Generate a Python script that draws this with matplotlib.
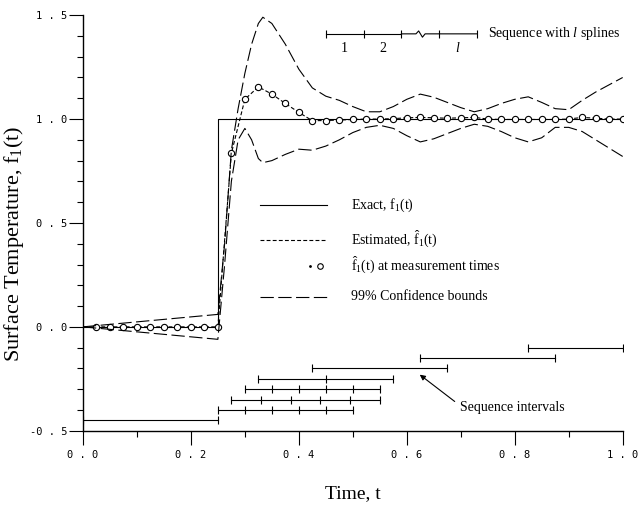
import numpy as np
import matplotlib
matplotlib.use('Agg')
import matplotlib.pyplot as plt
from matplotlib.ticker import MultipleLocator

plt.rcParams['font.family'] = 'Liberation Serif'
plt.rcParams['mathtext.fontset'] = 'custom'
plt.rcParams['mathtext.rm'] = 'Liberation Serif'
plt.rcParams['mathtext.it'] = 'Liberation Serif:italic'

# measurement times and estimated surface temperature at those times
t_meas = [0.025, 0.05, 0.075, 0.1, 0.125, 0.15, 0.175, 0.2, 0.225, 0.25,
          0.275, 0.3, 0.325, 0.35, 0.375, 0.4, 0.425, 0.45, 0.475, 0.5,
          0.525, 0.55, 0.575, 0.6, 0.625, 0.65, 0.675, 0.7, 0.725, 0.75,
          0.775, 0.8, 0.825, 0.85, 0.875, 0.9, 0.925, 0.95, 0.975, 1.0]
f_meas = [0.0, 0.0, 0.0, 0.0, 0.0, 0.0, 0.0, 0.0, 0.0, 0.0,
          0.835, 1.095, 1.155, 1.12, 1.075, 1.032, 0.992, 0.993, 0.995, 0.998,
          1.0, 1.0, 1.002, 1.006, 1.008, 1.006, 1.004, 1.006, 1.008, 1.0,
          0.998, 0.998, 0.998, 0.998, 0.998, 1.0, 1.008, 1.004, 1.0, 1.0]

# exact step input
exact_t = [0.0, 0.25, 0.25, 1.0]
exact_f = [0.0, 0.0, 1.0, 1.0]

# 99% confidence bounds
bound_t = [0.0, 0.125, 0.25, 0.2625, 0.275, 0.2875, 0.3, 0.3125, 0.325, 0.3333,
           0.35, 0.375, 0.4, 0.425, 0.45, 0.475, 0.5, 0.525, 0.55, 0.575,
           0.6, 0.625, 0.65, 0.675, 0.7, 0.725, 0.75, 0.775, 0.8, 0.825,
           0.85, 0.875, 0.9, 0.925, 0.95, 0.975, 1.0]
upper = [0.0, 0.03, 0.06, 0.4, 0.85, 1.05, 1.22, 1.36, 1.46, 1.49,
         1.46, 1.36, 1.24, 1.15, 1.11, 1.09, 1.06, 1.035, 1.035, 1.06,
         1.095, 1.12, 1.105, 1.08, 1.055, 1.035, 1.05, 1.075, 1.095, 1.107,
         1.08, 1.05, 1.045, 1.09, 1.13, 1.165, 1.2]
lower = [0.0, -0.03, -0.06, 0.3, 0.7, 0.9, 0.955, 0.9, 0.81, 0.79,
         0.8, 0.83, 0.855, 0.85, 0.87, 0.9, 0.935, 0.96, 0.97, 0.955,
         0.92, 0.89, 0.905, 0.93, 0.955, 0.975, 0.965, 0.94, 0.91, 0.89,
         0.91, 0.96, 0.96, 0.94, 0.9, 0.86, 0.82]

# sequence intervals: row level and the spline knots in each sequence
seq_rows = [-0.45, -0.40, -0.35, -0.30, -0.25, -0.20, -0.15, -0.10]
seq_knots = [[0.0, 0.25],
             [0.25, 0.3, 0.35, 0.4, 0.45, 0.5],
             [0.275, 0.33, 0.385, 0.44, 0.495, 0.55],
             [0.3, 0.35, 0.4, 0.45, 0.5, 0.55],
             [0.325, 0.45, 0.575],
             [0.425, 0.675],
             [0.625, 0.875],
             [0.825, 1.0]]

# key for a sequence with l splines
key_knots = [0.45, 0.52, 0.59, 0.66, 0.73]
key_y = 1.41
key_labels = ['1', '2', '$l$']

fig = plt.figure(figsize=(6.38, 5.05), dpi=100)
ax = fig.add_axes([0.130, 0.147, 0.846, 0.823])

lw = 0.8
ax.plot(exact_t, exact_f, 'k-', lw=lw)
ax.plot([0.0] + t_meas, [0.0] + f_meas, 'k', lw=lw, dashes=(3.5, 2))
ax.plot(t_meas, f_meas, 'o', ms=4.5, mfc='white', mec='k', mew=0.8)
ax.plot(bound_t, upper, 'k', lw=lw, dashes=(12, 4))
ax.plot(bound_t, lower, 'k', lw=lw, dashes=(12, 4))

for y, knots in zip(seq_rows, seq_knots):
    ax.plot([knots[0], knots[-1]], [y, y], 'k-', lw=lw)
    ax.plot(knots, [y] * len(knots), 'k|', ms=6, mew=0.8)

ax.annotate('Sequence intervals', xy=(0.624, -0.23), xytext=(0.698, -0.39),
            fontsize=10, va='center', ha='left',
            arrowprops=dict(arrowstyle='-|>', color='k', lw=0.8,
                            mutation_scale=8, shrinkA=2, shrinkB=0,
                            relpos=(0.0, 0.7)))

# key for l splines with a break between 2 and l
ax.plot([key_knots[0], key_knots[2]], [key_y, key_y], 'k-', lw=lw)
ax.plot([key_knots[2], 0.617, 0.622, 0.629, 0.634, key_knots[4]],
        [key_y, key_y, key_y + 0.014, key_y - 0.016, key_y, key_y], 'k-', lw=lw)
ax.plot(key_knots, [key_y] * len(key_knots), 'k|', ms=6, mew=0.8)
for i, lab in zip([0, 1, 3], key_labels):
    ax.text((key_knots[i] + key_knots[i + 1]) / 2, 1.34, lab,
            fontsize=10, ha='center', va='center')
ax.text(0.75, key_y, 'Sequence with $l$ splines', fontsize=10, va='center')

# legend drawn by hand
lx0, lx1, tx = 0.328, 0.452, 0.497
ax.plot([lx0, lx1], [0.587, 0.587], 'k-', lw=lw)
ax.text(tx, 0.587, r'Exact, f$_1$(t)', fontsize=10, va='center')
ax.plot([lx0, lx1], [0.42, 0.42], 'k', lw=lw, dashes=(3.5, 2))
ax.text(tx, 0.42, r'Estimated, $\hat{\mathrm{f}}_1$(t)', fontsize=10, va='center')
ax.plot([0.421], [0.295], 'k.', ms=2)
ax.plot([0.44], [0.295], 'o', ms=4, mfc='white', mec='k', mew=0.8)
ax.text(tx, 0.295, r'$\hat{\mathrm{f}}_1$(t) at measurement times', fontsize=10, va='center')
ax.plot([lx0, lx1], [0.144, 0.144], 'k', lw=lw, dashes=(12, 4))
ax.text(tx, 0.144, '99% Confidence bounds', fontsize=10, va='center')

ax.set_xlim(0.0, 1.0)
ax.set_ylim(-0.5, 1.5)
for s in ['top', 'right']:
    ax.spines[s].set_visible(False)
ax.spines['left'].set_linewidth(1.0)
ax.spines['bottom'].set_linewidth(1.0)

ax.xaxis.set_major_locator(MultipleLocator(0.2))
ax.xaxis.set_minor_locator(MultipleLocator(0.1))
ax.yaxis.set_major_locator(MultipleLocator(0.5))
ax.yaxis.set_minor_locator(MultipleLocator(0.1))
ax.tick_params(which='major', direction='out', length=10, width=0.8)
ax.tick_params(which='minor', direction='out', length=4.5, width=0.8)
ax.tick_params(axis='y', which='major', pad=1)
ax.tick_params(axis='x', which='major', pad=4)

xt = [0.0, 0.2, 0.4, 0.6, 0.8, 1.0]
yt = [-0.5, 0.0, 0.5, 1.0, 1.5]
ax.set_xticks(xt)
ax.set_xticklabels([' . '.join(f'{v:.1f}'.split('.')) for v in xt],
                   family='DejaVu Sans Mono', fontsize=7.5)
ax.set_yticks(yt)
ax.set_yticklabels([' . '.join(f'{v:.1f}'.split('.')) for v in yt],
                   family='DejaVu Sans Mono', fontsize=7.5)

ax.set_xlabel('Time, t', fontsize=14)
ax.xaxis.set_label_coords(0.5, -0.13)
ax.set_ylabel(r'Surface Temperature, f$_1$(t)', fontsize=16)
ax.yaxis.set_label_coords(-0.105, 0.45)

fig.savefig('out.png', dpi=100)
